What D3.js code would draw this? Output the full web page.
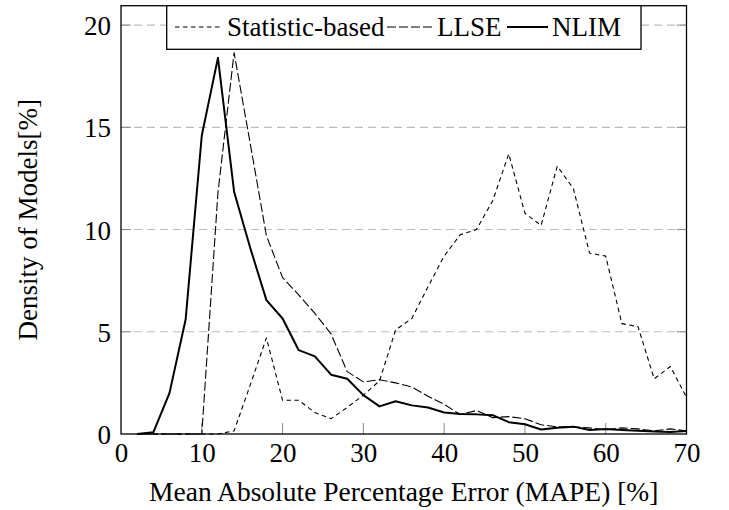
<!DOCTYPE html>
<html><head><meta charset="utf-8">
<script src="https://cdn.jsdelivr.net/npm/d3@7"></script>
<style>
html,body{margin:0;padding:0;background:#fff;}
text{font-family:"Liberation Serif","Times New Roman",serif;fill:#000;}
</style></head>
<body><svg id="chart" width="729" height="510"></svg>
<script>
const mape = [2,4,6,8,10,12,14,16,18,20,22,24,26,28,30,32,34,36,38,40,42,44,46,48,50,52,54,56,58,60,62,64,66,68,70];
const statisticBased = [0,0,0,0,0,0,0.15,2.4,4.7,1.65,1.65,1.05,0.75,1.3,1.9,2.6,5.1,5.65,7.2,8.7,9.75,10.0,11.4,13.7,10.8,10.2,13.1,12.0,8.85,8.7,5.4,5.25,2.7,3.3,1.8];
const llse = [0,0,0,0,0,11.8,18.65,14.2,9.7,7.65,6.8,5.9,4.9,3.05,2.55,2.65,2.5,2.3,1.85,1.45,0.95,1.15,0.8,0.85,0.75,0.45,0.35,0.35,0.3,0.2,0.3,0.25,0.15,0.25,0.15];
const nlim = [0,0.08,2.0,5.6,14.6,18.4,11.85,9.1,6.55,5.65,4.1,3.8,2.9,2.7,1.9,1.35,1.6,1.4,1.3,1.05,0.98,0.96,0.92,0.58,0.48,0.22,0.3,0.36,0.2,0.24,0.2,0.16,0.12,0.1,0.15];
const seriesNames = ["Statistic-based","LLSE","NLIM"];
const xTicks = [0,10,20,30,40,50,60,70];
const yTicks = [0,5,10,15,20];

const svg = d3.select("#chart");
const L=121, R=686.5, T=5.7, B=434;
const x = d3.scaleLinear().domain([0,70]).range([L,R]);
const y = d3.scaleLinear().domain([0,20.95]).range([B,T]);
const FS = 27;

// grid
svg.append("g").selectAll("line").data(yTicks.filter(d=>d>0)).join("line")
  .attr("x1",L).attr("x2",R).attr("y1",d=>y(d)).attr("y2",d=>y(d))
  .attr("stroke","#bdbdbd").attr("stroke-width",1.1).attr("stroke-dasharray","8,5");

// ticks (inside)
const tk = svg.append("g").attr("stroke","#8a8a8a").attr("stroke-width",1);
tk.selectAll(".xt").data(xTicks.slice(1,-1)).join("line")
  .attr("x1",d=>x(d)).attr("x2",d=>x(d)).attr("y1",B).attr("y2",B-11);
tk.selectAll(".yl").data(yTicks.slice(1)).join("line")
  .attr("x1",L).attr("x2",L+10).attr("y1",d=>y(d)).attr("y2",d=>y(d));
tk.selectAll(".yr").data(yTicks.slice(1)).join("line")
  .attr("x1",R).attr("x2",R-10).attr("y1",d=>y(d)).attr("y2",d=>y(d));

// lines
const line = d3.line().x((d,i)=>x(mape[i])).y(d=>y(d));
const styles = [
  {data:statisticBased, w:1.1, dash:"4.5,3.5"},
  {data:llse, w:1.1, dash:"9,3"},
  {data:nlim, w:2, dash:null}
];
svg.append("clipPath").attr("id","c").append("rect")
  .attr("x",L).attr("y",T).attr("width",R-L).attr("height",B-T+1);
styles.forEach(s=>{
  svg.append("path").attr("clip-path","url(#c)").attr("d",line(s.data))
    .attr("fill","none").attr("stroke","#000").attr("stroke-width",s.w)
    .attr("stroke-linejoin","round")
    .attr("stroke-dasharray",s.dash);
});

// frame
svg.append("rect").attr("x",L).attr("y",T).attr("width",R-L).attr("height",B-T)
  .attr("fill","none").attr("stroke","#000").attr("stroke-width",1.3);

// axes labels
const xAxis = d3.axisBottom(x).tickValues(xTicks).tickSize(0).tickPadding(0);
const gx = svg.append("g").attr("transform",`translate(0,${B})`).call(xAxis);
gx.select(".domain").remove();
gx.selectAll("text").attr("font-size",FS).attr("font-family","Liberation Serif").attr("fill","#000").attr("dy",null).attr("y",28);
const yAxis = d3.axisLeft(y).tickValues(yTicks).tickSize(0).tickPadding(0);
const gy = svg.append("g").attr("transform",`translate(${L},0)`).call(yAxis);
gy.select(".domain").remove();
gy.selectAll("text").attr("font-size",FS).attr("font-family","Liberation Serif").attr("fill","#000").attr("x",-10).attr("dy","0.35em");

svg.append("text").attr("x",(L+R)/2).attr("y",501).attr("text-anchor","middle").attr("font-size",27.5)
  .text("Mean Absolute Percentage Error (MAPE) [%]");
svg.append("text").attr("transform",`translate(37,${(T+B)/2}) rotate(-90)`).attr("text-anchor","middle").attr("font-size",FS)
  .text("Density of Models[%]");

// legend
const lg = svg.append("g");
lg.append("rect").attr("x",166.7).attr("y",T).attr("width",641-166.7).attr("height",49.3-T)
  .attr("fill","#fff").attr("stroke","#000").attr("stroke-width",1.3);
const entries = [
  {name:seriesNames[0], s:styles[0], x0:175, x1:222, tx:227},
  {name:seriesNames[1], s:styles[1], x0:387, x1:432, tx:437},
  {name:seriesNames[2], s:styles[2], x0:507, x1:548, tx:552}
];
entries.forEach(e=>{
  lg.append("line").attr("x1",e.x0).attr("x2",e.x1).attr("y1",27).attr("y2",27)
    .attr("stroke","#000").attr("stroke-width",e.s.w).attr("stroke-dasharray",e.s.dash);
  lg.append("text").attr("x",e.tx).attr("y",35.5).attr("font-size",FS).text(e.name);
});
</script></body></html>
